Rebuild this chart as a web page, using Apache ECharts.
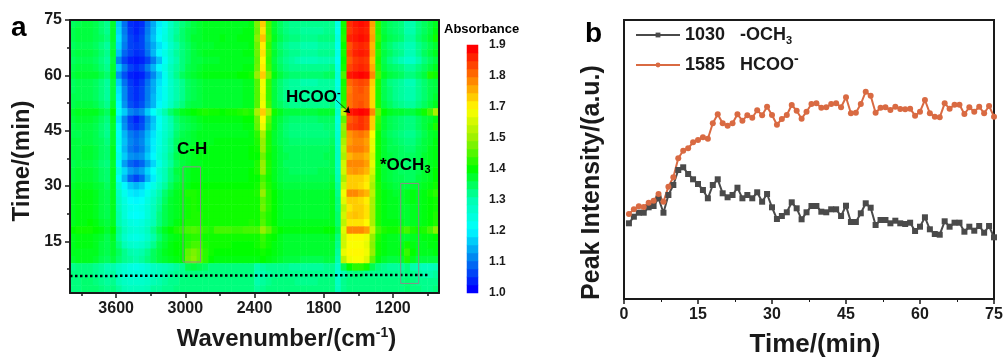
<!DOCTYPE html>
<html>
<head>
<meta charset="utf-8">
<style>html,body{margin:0;padding:0;background:#fff}#mapDiv{width:1003px;height:358px;filter:blur(0.4px)}</style>
<script src="https://cdn.jsdelivr.net/npm/echarts@6/dist/echarts.min.js"></script>
</head>
<body>
<div id="mapDiv"></div>
<script>
// panel a: cell centres, 50 cm-1 wide columns and 2 min high rows
var wavenumbers = [3975,3925,3875,3825,3775,3725,3675,3625,3575,3525,3475,3425,3375,3325,3275,3225,3175,3125,3075,3025,2975,2925,2875,2825,2775,2725,2675,2625,2575,2525,2475,2425,2375,2325,2275,2225,2175,2125,2075,2025,1975,1925,1875,1825,1775,1725,1675,1625,1575,1525,1475,1425,1375,1325,1275,1225,1175,1125,1075,1025,975,925,875,825];
var cellTimes = [74,72,70,68,66,64,62,60,58,56,54,52,50,48,46,44,42,40,38,36,34,32,30,28,26,24,22,20,18,16,14,12,10,8,6,4,2];

// absorbance x 100, one line per time row
var absorbanceRows = [
[139,140,141,141,140,138,136,142,118,110,104,103,104,110,115,121,125,131,135,137,139,141,142,143,143,143,143,143,143,143,143,144,154,172,150,142,139,137,136,136,136,136,136,136,136,136,126,146,186,188,189,188,176,148,141,139,138,137,134,134,137,139,141,143],
[140,141,141,141,140,138,136,142,119,111,105,103,105,111,116,122,126,132,135,138,140,141,142,143,143,143,143,143,143,143,144,144,153,170,150,142,139,137,136,136,135,135,135,135,136,136,125,146,185,187,188,187,175,148,141,139,138,137,134,134,137,139,141,144],
[140,141,141,141,140,139,137,142,120,112,106,104,106,112,117,123,127,132,136,138,140,142,142,143,143,143,144,143,143,144,144,144,155,173,151,143,140,138,137,137,136,136,136,137,137,137,127,147,187,188,189,188,176,149,142,140,139,138,135,135,138,140,142,146],
[139,140,140,140,139,137,135,141,119,111,106,105,106,111,115,120,124,130,134,137,139,141,142,142,142,143,143,143,143,143,143,144,153,169,149,141,138,136,135,135,134,134,134,135,135,135,125,145,183,186,187,186,174,147,140,138,136,135,133,133,136,138,140,142],
[140,141,141,141,140,138,136,142,117,109,106,104,105,110,116,122,126,131,135,137,139,141,142,143,143,143,143,143,143,143,144,144,153,170,150,142,139,137,136,136,135,135,135,136,136,136,126,146,184,187,188,187,175,148,141,139,137,136,133,133,136,139,141,143],
[139,140,140,140,139,137,135,141,112,106,103,102,103,106,111,117,124,130,134,137,139,141,141,142,142,142,143,143,143,143,143,143,152,168,149,141,138,136,135,134,133,133,133,134,134,134,124,145,182,185,186,185,173,147,140,137,135,133,130,130,134,137,139,141],
[140,141,141,141,140,138,136,142,118,111,106,104,106,111,116,122,126,132,135,137,140,141,142,143,143,143,143,143,143,143,144,144,153,169,150,142,139,137,136,136,136,136,136,136,136,137,126,146,184,186,187,186,175,148,141,139,138,137,135,135,137,139,141,143],
[141,142,142,142,142,140,138,143,113,107,103,102,103,107,112,118,125,132,136,139,141,142,143,144,144,144,144,144,144,145,145,146,156,172,154,144,141,139,138,138,138,138,138,138,139,139,128,150,188,189,190,189,178,150,143,141,140,139,137,137,139,141,147,146],
[139,140,140,140,139,137,135,141,118,110,105,103,105,110,115,120,124,130,134,136,139,140,141,142,142,142,142,142,142,142,143,143,151,166,149,141,138,136,135,135,134,134,134,135,135,135,126,146,181,183,184,183,172,147,140,137,136,135,133,133,136,138,140,141],
[139,140,140,140,139,137,135,141,120,112,106,104,106,111,115,121,125,130,134,136,139,140,141,142,142,142,142,142,142,142,143,143,151,166,149,141,138,136,135,135,135,135,135,135,135,135,127,147,179,182,183,181,171,147,140,138,136,135,134,134,136,138,140,141],
[140,140,140,140,139,137,135,141,121,112,106,104,106,111,116,121,125,130,134,136,139,140,141,142,142,142,142,142,142,142,143,143,151,165,149,141,138,136,135,135,135,135,135,135,135,136,127,147,180,182,182,181,171,147,140,138,136,135,134,134,136,138,140,142],
[140,141,141,141,140,138,136,142,122,113,107,105,107,112,116,122,126,131,135,137,140,141,141,142,142,142,142,142,142,142,143,143,151,166,150,141,139,137,136,136,136,136,136,136,136,137,128,148,180,182,183,181,171,147,141,139,137,136,135,135,137,139,141,143],
[142,143,143,143,143,141,139,145,124,118,112,110,112,118,123,128,134,138,141,143,144,145,146,147,146,146,145,146,146,147,148,147,158,172,158,146,143,141,141,141,141,141,141,142,142,142,130,160,188,189,190,189,178,152,145,143,142,142,141,141,143,146,150,158],
[141,142,142,142,141,139,137,143,120,112,106,103,106,112,117,124,129,134,138,140,141,142,143,144,144,144,144,144,144,144,145,145,153,168,152,143,141,139,138,138,138,138,138,139,139,139,127,152,182,184,186,184,172,149,142,140,139,138,137,137,139,141,142,144],
[140,141,141,141,140,138,136,142,122,113,107,105,107,113,118,124,129,133,137,139,140,141,142,143,143,143,143,143,143,143,144,144,152,165,150,143,140,138,137,137,137,137,137,137,138,138,128,156,184,185,186,184,172,148,142,140,139,138,137,137,139,141,143,147],
[140,140,141,141,140,138,136,142,124,116,111,109,111,116,120,126,130,134,138,140,141,142,143,143,143,143,143,143,143,143,143,144,148,158,147,142,140,138,137,137,137,137,137,137,137,138,129,155,177,179,180,178,167,146,141,139,138,137,136,136,138,140,142,143],
[141,141,141,141,140,139,137,142,125,117,112,110,112,117,121,126,131,135,139,141,141,142,143,143,143,144,144,144,144,144,144,144,147,156,147,142,140,139,138,138,138,138,138,138,138,139,130,158,176,178,178,176,165,146,142,140,139,138,137,137,139,141,142,144],
[141,141,142,142,141,139,138,143,124,116,111,109,111,116,121,127,131,135,139,141,142,143,143,144,144,144,144,144,144,144,144,145,146,156,147,143,141,139,139,139,139,139,139,139,139,140,131,160,178,179,179,177,165,146,142,140,140,139,138,138,140,141,143,144],
[141,141,142,142,141,139,138,143,126,118,113,112,113,118,122,128,132,136,140,142,142,143,144,144,144,144,144,144,144,144,144,145,145,153,146,143,141,140,139,139,139,139,139,139,140,140,131,158,174,176,176,174,163,146,142,141,140,139,139,139,140,142,143,144],
[140,141,141,141,140,138,137,142,122,114,109,107,109,114,119,126,131,135,139,141,142,143,143,144,144,144,144,144,144,144,144,144,147,156,147,143,141,139,139,139,139,139,139,139,139,140,131,162,178,178,178,176,165,146,142,140,140,139,138,138,140,141,143,144],
[141,142,142,142,141,139,138,143,127,119,114,112,114,119,123,129,133,137,141,142,143,144,144,144,144,144,144,144,144,144,144,145,147,156,147,143,141,140,139,139,139,139,139,140,140,140,132,162,176,177,176,174,163,146,142,141,140,139,139,139,140,142,143,145],
[141,142,142,142,141,139,138,143,124,116,109,106,109,116,121,128,133,137,140,142,143,144,144,144,144,144,144,144,144,144,144,145,145,150,146,143,141,140,140,140,140,140,140,140,140,141,133,158,172,172,172,170,160,146,142,141,140,140,139,139,141,142,143,145],
[142,143,143,143,142,141,139,143,129,122,118,116,118,122,126,131,135,139,142,143,144,145,145,145,145,145,145,145,145,145,145,145,146,152,147,144,142,141,141,141,141,141,141,141,141,142,135,162,172,172,171,169,158,147,143,142,141,141,141,142,142,143,144,146],
[143,144,144,144,143,141,140,143,131,125,121,120,121,125,129,134,138,141,143,144,147,147,146,146,146,146,146,146,146,146,146,146,147,156,148,145,143,142,142,142,142,142,142,142,142,143,136,166,178,178,176,174,160,147,144,143,142,142,143,144,143,144,146,148],
[143,144,144,144,143,141,140,143,132,127,123,122,123,127,131,135,139,142,143,144,146,147,146,146,146,146,146,146,146,146,146,146,146,152,148,145,143,142,142,142,142,142,142,142,142,143,137,164,172,172,171,169,158,147,144,143,143,142,143,144,143,144,145,146],
[143,144,144,144,143,141,140,143,133,128,125,124,125,128,132,136,140,142,143,144,146,147,146,146,146,146,146,146,146,146,146,146,146,153,148,145,143,142,142,142,142,142,142,142,142,143,137,160,170,172,172,170,158,147,144,143,143,142,142,143,143,144,145,146],
[143,144,144,144,143,141,140,143,134,128,124,123,124,128,132,137,140,142,143,144,146,147,147,146,146,146,146,146,146,146,146,146,146,150,147,145,143,142,142,142,142,142,142,142,142,143,138,162,172,173,172,170,158,147,144,143,143,142,142,143,143,144,145,147],
[143,144,144,145,144,142,141,143,134,130,127,126,127,130,133,137,140,142,144,145,147,147,147,146,146,146,146,146,146,146,146,147,146,151,147,145,143,143,143,143,143,143,143,143,143,143,138,160,170,170,170,168,158,147,144,144,144,143,142,143,143,144,145,147],
[145,146,146,146,145,144,142,145,136,132,129,128,129,132,136,140,143,145,147,148,150,151,150,148,147,150,150,150,149,149,150,150,150,156,152,147,145,144,144,144,144,144,144,144,145,145,140,164,178,178,178,176,162,150,147,146,146,148,150,147,146,147,150,155],
[143,144,144,144,143,142,140,143,135,130,127,126,127,130,134,138,141,143,144,145,147,148,148,146,146,146,146,146,146,146,146,146,146,149,146,145,143,142,142,142,142,142,142,142,142,143,137,162,168,168,168,166,156,147,144,143,143,142,142,143,143,144,144,145],
[143,144,144,144,143,141,140,142,137,133,130,129,130,133,136,140,142,144,145,145,148,150,150,147,146,146,146,146,145,145,145,145,146,148,146,144,143,142,142,142,142,142,142,142,142,142,136,162,167,167,167,165,155,146,144,143,143,143,146,144,143,143,144,144],
[143,143,143,143,143,141,140,142,139,136,134,133,134,136,139,141,143,144,145,145,152,154,152,148,146,145,145,145,145,145,145,145,145,146,145,144,143,142,142,142,142,142,142,142,142,142,135,165,168,168,168,166,156,146,144,143,143,144,149,145,143,143,143,144],
[142,143,143,143,142,140,139,141,138,136,135,134,135,137,139,141,142,143,144,145,153,155,152,148,145,144,144,144,144,144,144,144,144,145,144,143,142,141,141,141,140,140,140,140,141,141,134,160,166,167,167,164,152,144,142,141,141,142,147,143,141,141,141,141],
[136,137,137,137,136,135,133,134,131,129,127,126,127,129,131,132,133,134,135,136,140,141,140,139,137,137,137,137,137,137,137,137,134,135,136,136,136,136,135,135,135,135,135,135,136,136,130,140,145,148,148,146,140,137,136,135,135,135,137,134,133,132,132,133],
[137,137,137,137,136,135,134,135,131,129,128,128,128,129,131,132,134,135,136,136,137,137,137,137,137,137,137,137,137,137,137,137,133,134,135,136,136,136,136,136,136,136,136,136,136,136,129,134,136,137,137,136,136,136,136,136,136,136,137,136,135,134,134,135],
[137,137,138,138,137,136,135,136,133,131,130,130,130,131,133,134,135,136,136,137,137,137,137,137,137,137,137,137,137,137,137,137,134,135,136,137,137,137,137,136,136,136,136,137,137,137,131,136,137,137,137,137,137,137,137,137,137,137,138,137,136,136,136,136],
[137,137,138,138,138,137,136,137,135,133,132,132,132,133,135,135,136,136,137,137,137,137,137,137,137,137,137,137,137,137,137,137,135,136,137,137,137,137,137,137,137,137,137,137,137,137,132,136,137,137,137,137,137,137,137,137,137,137,138,137,137,136,136,137]
];

var wavenumberTicks = [3600,3000,2400,1800,1200];
var wavenumberMinorTicks = [3900,3300,2700,2100,1500,900];
var timeTicks = [15,30,45,60,75];
var timeMinorTicks = [7.5,22.5,37.5,52.5,67.5];

// colour bar
var colorLevels = [100,103,106,109,112,115,118,121,124,127,130,133,136,139,142,145,148,151,154,157,160,163,166,169,172,175,178,181,184,187,190];
var colorbarLabels = ['1.0','1.1','1.2','1.3','1.4','1.5','1.7','1.8','1.9'];

// annotations of panel a, in axis units
var baselineX = [4000,900];
var baselineY = [5.6,5.9];
var boxCH = [[3020,35.2],[2868,35.2],[2868,9.4],[3020,9.4],[3020,35.2]];
var boxOCH3 = [[1132,30.7],[976,30.7],[976,3.6],[1132,3.6],[1132,30.7]];

// panel b
var minutes = [1,2,3,4,5,6,7,8,9,10,11,12,13,14,15,16,17,18,19,20,21,22,23,24,25,26,27,28,29,30,31,32,33,34,35,36,37,38,39,40,41,42,43,44,45,46,47,48,49,50,51,52,53,54,55,56,57,58,59,60,61,62,63,64,65,66,67,68,69,70,71,72,73,74,75];
var och3Peak = [75.7,82.3,86.3,86.3,91.7,93,100.7,86.3,104,114,129,131.7,125,119.7,115,109,100.7,114,119.7,105.7,101.7,104,111.3,100.7,104,100.7,106.7,97.3,105,91.7,80,83,86.7,96.7,90.7,79.7,86.7,93,93,87.3,86.7,89.7,89.7,83,93.3,77,77,85.7,95.7,91.3,74,79,79,75.7,78.3,75.7,75,76.3,68,72.3,81.7,69.7,65,64.3,77.7,72.3,76.3,76.3,67.3,72.3,68.3,73,66.3,73,61.7];
var hcooPeak = [85,89.7,92.7,92,96.3,98.3,105,97.3,112.3,121.7,140.7,148.3,150.7,156.7,159,161.7,160.3,175.7,184.7,175.7,173.3,175.7,184.7,178.3,183.7,181.3,188.7,183.7,192.3,184,174.3,180,184,194,188.3,180.3,187.3,195,195.7,191.3,191.7,195,195.7,191.7,201.7,185.7,186.3,195,207.3,203.3,186.3,191.3,191.7,189,192.3,190,189.7,190.3,183.3,187.3,199,185.7,182.3,181.7,195.7,190.3,194.3,194.3,185,191.7,187.3,192.3,185.7,193,182.3];

var cellData = [];
for (var r = 0; r < absorbanceRows.length; r++) {
    for (var c = 0; c < wavenumbers.length; c++) {
        cellData.push([c, r, absorbanceRows[r][c]]);
    }
}
var levelData = [];
for (var i = 0; i < colorLevels.length; i++) {
    levelData.push([0, i, colorLevels[i]]);
}
function pairs(xs, ys) {
    return xs.map(function (x, k) { return [x, ys[k]]; });
}

var FONT = '"Liberation Sans", Arial, sans-serif';
var INK = '#1a1a1a';
var supSub = {
    sup: { fontSize: 14, fontWeight: 'bold', fontFamily: FONT, color: INK, verticalAlign: 'top', lineHeight: 26 },
    sub: { fontSize: 11, fontWeight: 'bold', fontFamily: FONT, color: INK, verticalAlign: 'bottom', lineHeight: 22 }
};
var hidden = { show: false };
function tickLabel(size) {
    return { fontFamily: FONT, fontWeight: 'bold', fontSize: size, color: INK };
}
function annotation(x, y, text, size) {
    return {
        type: 'text', x: x, y: y, z: 20,
        style: { text: text, font: 'bold ' + size + 'px ' + FONT, fill: '#000', verticalAlign: 'middle', rich: {
            sup: { font: 'bold 11px ' + FONT, fill: '#000', verticalAlign: 'top', lineHeight: 20 },
            sub: { font: 'bold 11px ' + FONT, fill: '#000', verticalAlign: 'bottom', lineHeight: 20 }
        } }
    };
}

var option = {
    animation: false,
    backgroundColor: '#fff',
    grid: [
        { left: 70, top: 20, width: 369, height: 273, outerBoundsMode: 'none' },
        { left: 624, top: 20, width: 370, height: 279, outerBoundsMode: 'none', show: true, borderColor: INK, borderWidth: 2 },
        { left: 467, top: 45, width: 11, height: 248, outerBoundsMode: 'none' }
    ],
    visualMap: {
        show: false, type: 'continuous', seriesIndex: [0, 1], min: 100, max: 190, dimension: 2,
        inRange: { color: ['#0000ff', '#0080f0', '#00ffff', '#00ffb0', '#00ff00', '#98f000', '#ffff00', '#ff8000', '#ff0000'] }
    },
    legend: {
        data: ['1030   -OCH3', '1585   HCOO-'],
        left: 635, top: 26, padding: 0, orient: 'vertical', itemWidth: 44, itemHeight: 6, itemGap: 6,
        textStyle: { fontFamily: FONT, fontWeight: 'bold', fontSize: 18, color: INK, rich: supSub },
        formatter: function (name) {
            return name === '1030   -OCH3' ? '1030   -OCH{sub|3}' : '1585   HCOO{sup|-}';
        }
    },
    xAxis: [
        { // cell axis, its line closes the frame on top
            type: 'category', gridIndex: 0, position: 'top', data: wavenumbers, z: 5,
            axisLine: { lineStyle: { color: INK, width: 2 } }, axisTick: hidden, axisLabel: hidden, splitLine: hidden
        },
        {
            type: 'value', gridIndex: 0, position: 'bottom', inverse: true, min: 800, max: 4000, z: 5,
            name: 'Wavenumber/(cm{sup|-1})', nameLocation: 'middle', nameGap: 33,
            nameTextStyle: { fontFamily: FONT, fontWeight: 'bold', fontSize: 24, color: INK, rich: supSub, padding: [0, 0, 0, 64] },
            axisLine: { lineStyle: { color: INK, width: 2 } },
            axisTick: { customValues: wavenumberTicks, length: 5, lineStyle: { color: INK, width: 1.5 } },
            axisLabel: Object.assign({ customValues: wavenumberTicks, margin: 8, formatter: function (v) { return String(v); } }, tickLabel(16)),
            splitLine: hidden
        },
        {
            type: 'value', gridIndex: 0, position: 'bottom', inverse: true, min: 800, max: 4000,
            axisLine: hidden, axisLabel: hidden, splitLine: hidden,
            axisTick: { customValues: wavenumberMinorTicks, length: 3, lineStyle: { color: INK, width: 1.5 } }
        },
        {
            type: 'value', gridIndex: 1, position: 'bottom', min: 0, max: 75, interval: 15, z: 5,
            name: 'Time/(min)', nameLocation: 'middle', nameGap: 33,
            nameTextStyle: { fontFamily: FONT, fontWeight: 'bold', fontSize: 26, color: INK, padding: [0, 0, 0, 12] },
            axisLine: { lineStyle: { color: INK, width: 2 } },
            axisTick: { length: 5, lineStyle: { color: INK, width: 1.5 } },
            minorTick: { show: true, splitNumber: 2, length: 3, lineStyle: { color: INK, width: 1 } },
            axisLabel: Object.assign({ margin: 8, hideOverlap: false, showMinLabel: true, showMaxLabel: true }, tickLabel(16)),
            splitLine: hidden
        },
        {
            type: 'category', gridIndex: 2, data: ['level'],
            axisLine: hidden, axisTick: hidden, axisLabel: hidden, splitLine: hidden
        }
    ],
    yAxis: [
        { // cell axis, its line closes the frame on the right
            type: 'category', gridIndex: 0, position: 'right', inverse: true, data: cellTimes, z: 5,
            axisLine: { lineStyle: { color: INK, width: 2 } }, axisTick: hidden, axisLabel: hidden, splitLine: hidden
        },
        {
            type: 'value', gridIndex: 0, position: 'left', min: 1, max: 75, z: 5,
            name: 'Time/(min)', nameLocation: 'middle', nameGap: 36,
            nameTextStyle: { fontFamily: FONT, fontWeight: 'bold', fontSize: 24, color: INK, padding: [0, 9, 0, 0] },
            axisLine: { lineStyle: { color: INK, width: 2 } },
            axisTick: { customValues: timeTicks, length: 5, lineStyle: { color: INK, width: 1.5 } },
            axisLabel: Object.assign({ customValues: timeTicks, margin: 8 }, tickLabel(16)),
            splitLine: hidden
        },
        {
            type: 'value', gridIndex: 0, position: 'left', min: 1, max: 75,
            axisLine: hidden, axisLabel: hidden, splitLine: hidden,
            axisTick: { customValues: timeMinorTicks, length: 3, lineStyle: { color: INK, width: 1.5 } }
        },
        {
            type: 'value', gridIndex: 1, position: 'left', min: 0, max: 279, z: 5,
            name: 'Peak Intensity/(a.u.)', nameLocation: 'middle', nameGap: 19,
            nameTextStyle: { fontFamily: FONT, fontWeight: 'bold', fontSize: 25, color: INK, padding: [0, 46, 0, 0] },
            axisLine: { lineStyle: { color: INK, width: 2 } }, axisTick: hidden, axisLabel: hidden, splitLine: hidden
        },
        {
            type: 'category', gridIndex: 2, data: colorLevels,
            axisLine: hidden, axisTick: hidden, axisLabel: hidden, splitLine: hidden
        },
        {
            type: 'value', gridIndex: 2, position: 'right', min: 0, max: 8, interval: 1,
            axisLine: { lineStyle: { color: '#777', width: 1 } },
            axisTick: { length: 5, lineStyle: { color: '#555', width: 1 } },
            axisLabel: Object.assign({
                margin: 11, showMinLabel: true, showMaxLabel: true,
                formatter: function (v) { return colorbarLabels[v]; }
            }, tickLabel(12)),
            splitLine: hidden
        }
    ],
    series: [
        {
            type: 'heatmap', xAxisIndex: 0, yAxisIndex: 0, data: cellData, progressive: 0,
            itemStyle: { borderWidth: 0 }, emphasis: { disabled: true }
        },
        {
            type: 'heatmap', xAxisIndex: 4, yAxisIndex: 4, data: levelData, progressive: 0,
            itemStyle: { borderWidth: 0 }, emphasis: { disabled: true }
        },
        {
            type: 'line', xAxisIndex: 1, yAxisIndex: 1, data: pairs(baselineX, baselineY), symbol: 'none', z: 6,
            lineStyle: { color: '#000', width: 2.5, type: [2.5, 2.5] },
            markLine: {
                silent: true, symbol: ['none', 'arrow'], symbolSize: 6, label: hidden,
                lineStyle: { color: '#000', width: 0.7, type: 'solid' },
                data: [[{ coord: [1693, 53.3] }, { coord: [1572, 49.8] }]]
            }
        },
        { type: 'line', xAxisIndex: 1, yAxisIndex: 1, data: boxCH, symbol: 'none', z: 6, lineStyle: { color: '#8c8c8c', width: 1 } },
        { type: 'line', xAxisIndex: 1, yAxisIndex: 1, data: boxOCH3, symbol: 'none', z: 6, lineStyle: { color: '#8c8c8c', width: 1 } },
        {
            name: '1030   -OCH3', type: 'line', xAxisIndex: 3, yAxisIndex: 3, data: pairs(minutes, och3Peak),
            symbol: 'rect', symbolSize: 6, showSymbol: true, showAllSymbol: true, color: '#4a4a4a', lineStyle: { width: 2, color: '#4a4a4a' }
        },
        {
            name: '1585   HCOO-', type: 'line', xAxisIndex: 3, yAxisIndex: 3, data: pairs(minutes, hcooPeak),
            symbol: 'circle', symbolSize: 6, showSymbol: true, showAllSymbol: true, color: '#d96a42', lineStyle: { width: 2, color: '#d96a42' }
        }
    ],
    graphic: [
        annotation(11, 28, 'a', 28),
        annotation(585, 34, 'b', 28),
        annotation(177, 149, 'C-H', 17),
        annotation(286, 97, 'HCOO{sup|-}', 17),
        annotation(380, 165, '*OCH{sub|3}', 17),
        annotation(444, 29, 'Absorbance', 13)
    ]
};

var dom = document.getElementById("mapDiv");
var myChart = echarts.init(dom, null, { renderer: 'canvas' });
myChart.setOption(option);
</script>
</body>
</html>
